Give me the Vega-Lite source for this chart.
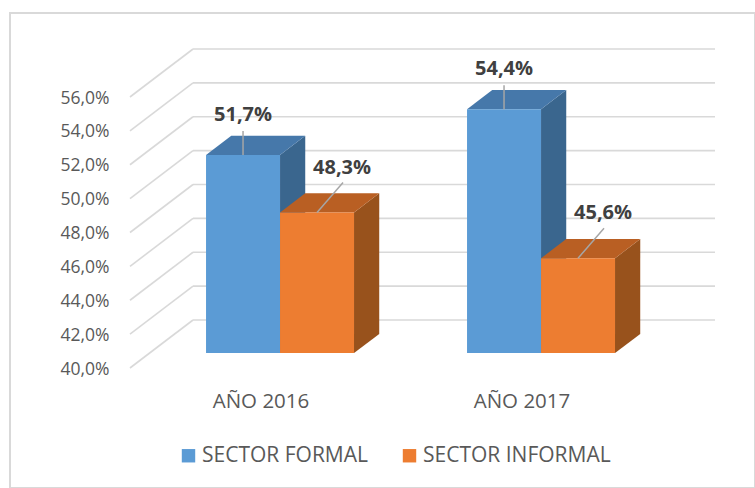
{
"$schema": "https://vega.github.io/schema/vega-lite/v6.json",
"width": 745, "height": 475,
"autosize": {"type": "none"},
"padding": {"left": 10, "top": 13, "right": 0, "bottom": 0},
"background": "white",
"config": {
  "font": "Open Sans",
  "view": {"stroke": "#D9D9D9", "strokeWidth": 2},
  "locale": {"number": {"decimal": ",", "thousands": ".", "grouping": [3], "currency": ["", " €"]}}
},
"datasets": {
  "bars": [
    {"year": "AÑO 2016", "sector": "SECTOR FORMAL", "value": 0.517},
    {"year": "AÑO 2016", "sector": "SECTOR INFORMAL", "value": 0.483},
    {"year": "AÑO 2017", "sector": "SECTOR FORMAL", "value": 0.544},
    {"year": "AÑO 2017", "sector": "SECTOR INFORMAL", "value": 0.456}
  ],
  "grid": [{"v": 0.40}, {"v": 0.42}, {"v": 0.44}, {"v": 0.46}, {"v": 0.48}, {"v": 0.50}, {"v": 0.52}, {"v": 0.54}, {"v": 0.56}]
},
"layer": [
  {
    "data": {"name": "grid"},
    "transform": [
      {"calculate": "datum.v + 0.02834", "as": "vb"},
      {"calculate": "0", "as": "x0"},
      {"calculate": "0.2414", "as": "xk"},
      {"calculate": "2.2414", "as": "xe"}
    ],
    "layer": [
      {
        "mark": {"type": "rule", "color": "#D9D9D9", "strokeWidth": 1.6},
        "encoding": {
          "x": {"field": "xk", "type": "quantitative", "scale": {"domain": [0, 2], "range": [120, 642], "nice": false, "zero": false}, "axis": null},
          "x2": {"field": "xe"},
          "y": {"field": "vb", "type": "quantitative", "scale": {"domain": [0.4, 0.56], "range": [355, 84], "nice": false, "zero": false}, "title": null},
          "y2": {"field": "vb"}
        }
      },
      {
        "mark": {"type": "rule", "color": "#D9D9D9", "strokeWidth": 1.6},
        "encoding": {
          "x": {"field": "x0", "type": "quantitative", "scale": {"domain": [0, 2], "range": [120, 642], "nice": false, "zero": false}, "axis": null},
          "x2": {"field": "xk"},
          "y": {"field": "v", "type": "quantitative", "title": null},
          "y2": {"field": "vb"}
        }
      }
    ]
  },
  {
    "data": {"name": "bars"},
    "transform": [
      {"window": [{"op": "dense_rank", "as": "yi"}], "sort": [{"field": "year"}]},
      {"window": [{"op": "dense_rank", "as": "si"}], "sort": [{"field": "sector"}]},
      {"calculate": "datum.yi - 1 + 0.2165 + (datum.si - 1) * 0.2835", "as": "xL"},
      {"calculate": "datum.xL + 0.2835", "as": "xR"},
      {"calculate": "[0.31, 0.71]", "as": "z"},
      {"flatten": ["z"]},
      {"calculate": "datum.xL + datum.z * 0.2414", "as": "px1"},
      {"calculate": "datum.xR + datum.z * 0.2414", "as": "px2"},
      {"calculate": "datum.value + datum.z * 0.02834", "as": "py"},
      {"calculate": "0.4 + datum.z * 0.02834", "as": "pb"},
      {"calculate": "(datum.px1 + datum.px2) / 2", "as": "pc"}
    ],
    "layer": [
      {
        "mark": {"type": "area", "orient": "vertical"},
        "encoding": {
          "x": {"field": "px2", "type": "quantitative", "scale": {"domain": [0, 2], "range": [120, 642], "nice": false, "zero": false}, "axis": null},
          "y": {"field": "py", "type": "quantitative", "stack": null, "title": null},
          "y2": {"field": "pb"},
          "detail": [{"field": "year"}, {"field": "sector"}],
          "color": {"condition": {"test": "datum.si === 1", "value": "#3A668E"}, "value": "#98521C"}
        }
      },
      {
        "mark": {"type": "area", "orient": "horizontal"},
        "encoding": {
          "x": {"field": "px1", "type": "quantitative", "stack": null, "axis": null},
          "x2": {"field": "px2"},
          "y": {"field": "py", "type": "quantitative", "title": null},
          "detail": [{"field": "year"}, {"field": "sector"}],
          "color": {"condition": {"test": "datum.si === 1", "value": "#4678AA"}, "value": "#B95F23"}
        }
      },
      {
        "transform": [{"filter": "datum.z < 0.5"}],
        "mark": {"type": "rect"},
        "encoding": {
          "x": {"field": "px1", "type": "quantitative", "axis": null},
          "x2": {"field": "px2"},
          "y": {"field": "py", "type": "quantitative", "title": null},
          "y2": {"field": "pb"},
          "color": {
            "field": "sector", "type": "nominal",
            "scale": {"domain": ["SECTOR FORMAL", "SECTOR INFORMAL"], "range": ["#5B9BD5", "#ED7D31"]},
            "legend": {"orient": "none", "legendX": 168, "legendY": 432, "direction": "horizontal", "title": null,
              "labelFontSize": 21, "labelColor": "#595959", "labelFont": "Open Sans", "labelLimit": 0, "symbolType": "square",
              "symbolSize": 180, "symbolStrokeWidth": 0, "labelOffset": 3, "columnPadding": 31}
          }
        }
      },
      {
        "transform": [{"filter": "datum.z < 0.5 && datum.si === 1"}],
        "mark": {"type": "rule", "color": "#A6A6A6", "strokeWidth": 1.5, "y2Offset": -24},
        "encoding": {
          "x": {"field": "pc", "type": "quantitative", "axis": null},
          "x2": {"field": "pc"},
          "y": {"field": "py", "type": "quantitative", "title": null},
          "y2": {"field": "py"}
        }
      },
      {
        "transform": [{"filter": "datum.z < 0.5 && datum.si === 2"}],
        "mark": {"type": "rule", "color": "#A6A6A6", "strokeWidth": 1.5, "x2Offset": 26, "y2Offset": -30},
        "encoding": {
          "x": {"field": "pc", "type": "quantitative", "axis": null},
          "x2": {"field": "pc"},
          "y": {"field": "py", "type": "quantitative", "title": null},
          "y2": {"field": "py"}
        }
      },
      {
        "transform": [{"filter": "datum.z < 0.5 && datum.si === 1"}],
        "mark": {"type": "text", "dy": -40, "fontWeight": "bold", "fontSize": 20, "color": "#404040", "baseline": "middle", "align": "center", "font": "Open Sans"},
        "encoding": {
          "x": {"field": "pc", "type": "quantitative", "axis": null},
          "y": {"field": "py", "type": "quantitative", "title": null},
          "text": {"field": "value", "type": "quantitative", "format": ".1%"}
        }
      },
      {
        "transform": [{"filter": "datum.z < 0.5 && datum.si === 2"}],
        "mark": {"type": "text", "dx": 25, "dy": -45, "fontWeight": "bold", "fontSize": 20, "color": "#404040", "baseline": "middle", "align": "center", "font": "Open Sans"},
        "encoding": {
          "x": {"field": "pc", "type": "quantitative", "axis": null},
          "y": {"field": "py", "type": "quantitative", "title": null},
          "text": {"field": "value", "type": "quantitative", "format": ".1%"}
        }
      }
    ]
  },
  {
    "data": {"name": "bars"},
    "mark": {"type": "point", "opacity": 0},
    "encoding": {
      "x": {"field": "year", "type": "nominal", "scale": {"type": "point", "range": [120, 642], "padding": 0.5}, "title": null,
        "axis": {"orient": "bottom", "domain": false, "ticks": false, "tickSize": 0, "grid": false, "labelAngle": 0, "labelPadding": 0,
          "labelBaseline": "alphabetic", "offset": -81, "labelFontSize": 20.5, "labelColor": "#595959", "labelFont": "Open Sans"}},
      "y": {"field": "value", "type": "quantitative", "title": null,
        "axis": {"values": [0.40, 0.42, 0.44, 0.46, 0.48, 0.50, 0.52, 0.54, 0.56], "format": ".1%", "domain": false, "ticks": false, "tickSize": 0,
          "grid": false, "labelPadding": 0, "offset": -99, "labelFontSize": 17.5, "labelColor": "#595959", "labelFont": "Open Sans", "labelOffset": 1}}
    }
  }
],
"resolve": {"scale": {"x": "independent"}, "axis": {"x": "independent"}}
}
